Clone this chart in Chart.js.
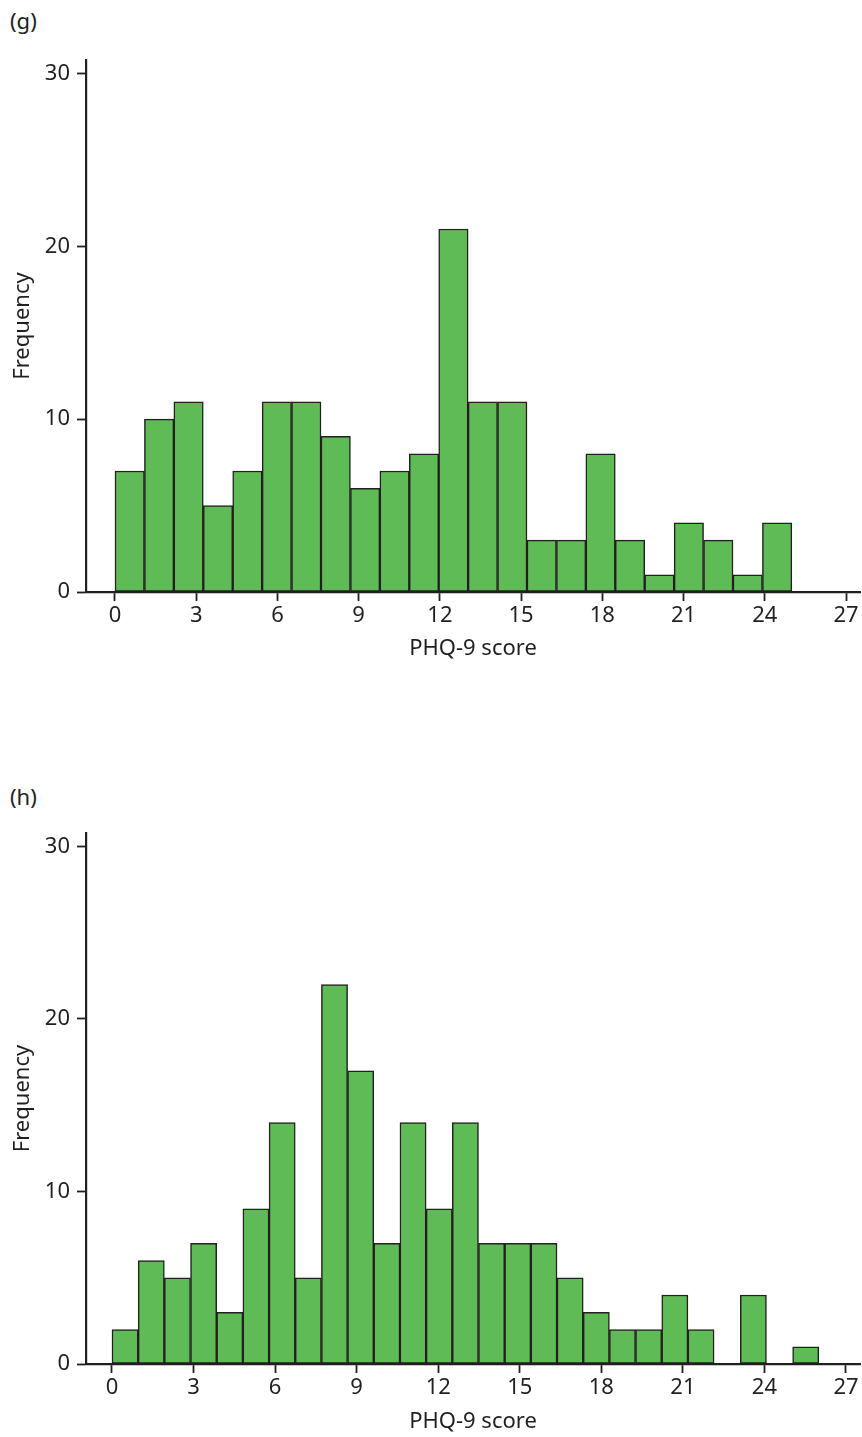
<!DOCTYPE html>
<html>
<head>
<meta charset="utf-8">
<script src="https://cdn.jsdelivr.net/npm/chart.js@4.4.1/dist/chart.umd.min.js"></script>
<style>
  html, body { margin: 0; padding: 0; background: #fff; }
  body { width: 862px; height: 1437px; position: relative; overflow: hidden; font-family: 'Noto Sans', sans-serif; color: #231f20; }
  .panel-label { position: absolute; left: 10px; font-size: 22px; }
  .box { position: absolute; left: 0; width: 862px; }
</style>
</head>
<body>
<div class="panel-label" style="top: 5px;">(g)</div>
<div class="box" style="top: 0; height: 680px;"><canvas id="chartG"></canvas></div>
<div class="panel-label" style="top: 781px;">(h)</div>
<div class="box" style="top: 770px; height: 667px;"><canvas id="chartH"></canvas></div>

<script>
// PHQ-9 score histograms, panels (g) and (h)
const xTickLabels = [0, 3, 6, 9, 12, 15, 18, 21, 24, 27];
const yTickLabels = [0, 10, 20, 30];

// panel (g): 23 bins spanning 0 to 25
const binsG = { start: 0, end: 25 };
const freqG = [7, 10, 11, 5, 7, 11, 11, 9, 6, 7, 8, 21, 11, 11, 3, 3, 8, 3, 1, 4, 3, 1, 4];

// panel (h): 27 bins spanning 0 to 26
const binsH = { start: 0, end: 26 };
const freqH = [2, 6, 5, 7, 3, 9, 14, 5, 22, 17, 7, 14, 9, 14, 7, 7, 7, 5, 3, 2, 2, 4, 2, 0, 4, 0, 1];

const ink = '#231f20';
const barFill = '#5fbb55';
const fontSpec = { family: "'Noto Sans', sans-serif", size: 22 };

function binPoints(bins, freq) {
  const w = (bins.end - bins.start) / freq.length;
  return freq.map((f, i) => ({ x: bins.start + (i + 0.5) * w, y: f }));
}

function makeHist(canvasId, bins, freq, opts) {
  const ctx = document.getElementById(canvasId).getContext('2d');
  return new Chart(ctx, {
    type: 'bar',
    data: {
      datasets: [{
        data: binPoints(bins, freq),
        backgroundColor: barFill,
        borderColor: ink,
        borderWidth: 1.5,
        borderSkipped: false,
        barPercentage: 1,
        categoryPercentage: 1
      }]
    },
    options: {
      responsive: true,
      maintainAspectRatio: false,
      animation: false,
      layout: { padding: { top: opts.padTop, right: 2, left: 0, bottom: 0 } },
      plugins: { legend: { display: false }, tooltip: { enabled: false } },
      scales: {
        x: {
          type: 'linear',
          offset: false,
          min: opts.xMin,
          max: opts.xMax,
          afterBuildTicks: s => { s.ticks = xTickLabels.map(v => ({ value: v })); },
          afterFit: s => { s.height = opts.xHeight; },
          grid: { offset: false, drawOnChartArea: false, drawTicks: true, tickLength: 9, tickWidth: 1.8, tickColor: ink },
          border: { display: true, color: ink, width: 2.2 },
          ticks: { color: ink, font: fontSpec, padding: 2, maxRotation: 0 },
          title: { display: true, text: 'PHQ-9 score', color: ink, font: fontSpec, padding: { top: 0, bottom: opts.titlePad } }
        },
        y: {
          min: 0,
          max: 30.78,
          afterBuildTicks: s => { s.ticks = yTickLabels.map(v => ({ value: v })); },
          afterFit: s => { s.width = 86; },
          grid: { drawOnChartArea: false, drawTicks: true, tickLength: 9, tickWidth: 1.8, tickColor: ink },
          border: { display: true, color: ink, width: 2.2 },
          ticks: { color: ink, font: fontSpec, padding: 7 },
          title: { display: true, text: 'Frequency', color: ink, font: fontSpec, padding: { top: 10, bottom: 0 } }
        }
      }
    }
  });
}

makeHist('chartG', binsG, freqG, { padTop: 60, xMin: -1.071, xMax: 27.517, xHeight: 88, titlePad: 18 });
makeHist('chartH', binsH, freqH, { padTop: 63, xMin: -0.956, xMax: 27.515, xHeight: 73, titlePad: 2 });
</script>
</body>
</html>
